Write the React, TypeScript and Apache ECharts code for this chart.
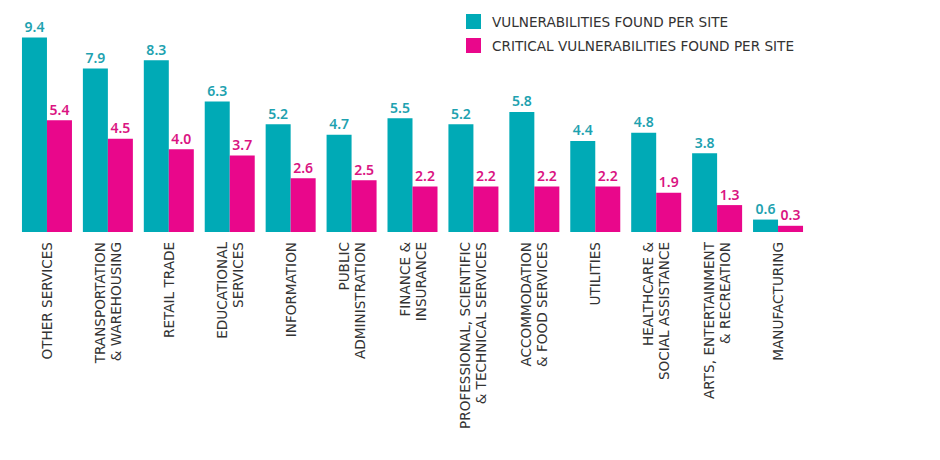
import React, { useEffect, useRef } from "react";
import * as echarts from "echarts";

const categories = [
  "OTHER SERVICES",
  "TRANSPORTATION\n& WAREHOUSING",
  "RETAIL TRADE",
  "EDUCATIONAL\nSERVICES",
  "INFORMATION",
  "PUBLIC\nADMINISTRATION",
  "FINANCE &\nINSURANCE",
  "PROFESSIONAL, SCIENTIFIC\n& TECHNICAL SERVICES",
  "ACCOMMODATION\n& FOOD SERVICES",
  "UTILITIES",
  "HEALTHCARE &\nSOCIAL ASSISTANCE",
  "ARTS, ENTERTAINMENT\n& RECREATION",
  "MANUFACTURING",
];

const vulnerabilities = [9.4, 7.9, 8.3, 6.3, 5.2, 4.7, 5.5, 5.2, 5.8, 4.4, 4.8, 3.8, 0.6];
const criticalVulnerabilities = [5.4, 4.5, 4.0, 3.7, 2.6, 2.5, 2.2, 2.2, 2.2, 2.2, 1.9, 1.3, 0.3];

const seriesNames = [
  "VULNERABILITIES FOUND PER SITE",
  "CRITICAL VULNERABILITIES FOUND PER SITE",
];

const TEAL = "#00AAB6";
const MAGENTA = "#E9078B";
const LABEL_FONT = "'DejaVu Sans', Verdana, sans-serif";

export default function App() {
  const ref = useRef<HTMLDivElement>(null);

  useEffect(() => {
    document.body.style.margin = "0";
    if (!ref.current) return;
    const chart = echarts.init(ref.current, null, { renderer: "svg" });
    const valueLabel = (color: string) => ({
      show: true,
      position: "top",
      distance: 4,
      color,
      fontFamily: "Noto Sans",
      fontWeight: 600,
      fontSize: 14,
      formatter: (p: any) => Number(p.value).toFixed(1),
    });
    chart.setOption({
      animation: false,
      backgroundColor: "#ffffff",
      legend: {
        orient: "vertical",
        left: 466,
        top: 14,
        padding: 0,
        itemWidth: 15,
        itemHeight: 15,
        itemGap: 9,
        icon: "rect",
        data: seriesNames,
        textStyle: {
          fontFamily: LABEL_FONT,
          fontSize: 13.6,
          color: "#333333",
          padding: [0, 0, 0, 6],
        },
      },
      grid: {
        left: 16.5,
        right: 940 - 808.5,
        top: 25,
        bottom: 460 - 232,
        containLabel: false,
      },
      xAxis: {
        type: "category",
        data: categories,
        axisLine: { show: false },
        axisTick: { show: false },
        axisLabel: {
          interval: 0,
          rotate: 90,
          margin: 10,
          fontFamily: LABEL_FONT,
          fontSize: 13.6,
          color: "#333333",
          lineHeight: 16,
        },
      },
      yAxis: {
        type: "value",
        min: 0,
        max: 10,
        show: false,
        splitLine: { show: false },
      },
      series: [
        {
          name: seriesNames[0],
          type: "bar",
          data: vulnerabilities,
          barWidth: 25,
          barGap: "0%",
          itemStyle: { color: TEAL },
          label: valueLabel("#1EA2B0"),
        },
        {
          name: seriesNames[1],
          type: "bar",
          data: criticalVulnerabilities,
          barWidth: 25,
          barGap: "0%",
          itemStyle: { color: MAGENTA },
          label: valueLabel("#DA1482"),
        },
      ],
    });
    return () => chart.dispose();
  }, []);

  return <div ref={ref} style={{ width: 940, height: 460 }} />;
}
